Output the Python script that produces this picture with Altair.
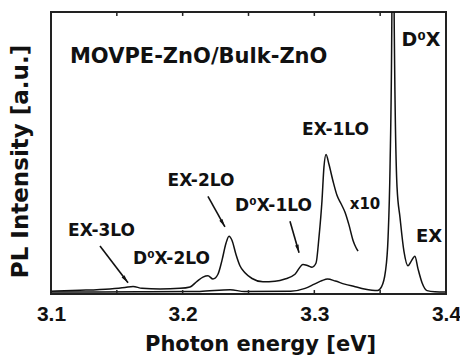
import altair as alt
import pandas as pd

# ---- data ----
main_energy = [3.100, 3.137, 3.175, 3.213, 3.236, 3.247, 3.282, 3.293, 3.300, 3.306,
               3.310, 3.316, 3.323, 3.331, 3.338, 3.348, 3.351, 3.354, 3.356, 3.3575,
               3.3589, 3.3597, 3.3606, 3.3628, 3.3651, 3.3681, 3.3711, 3.3734, 3.3764,
               3.3787, 3.3818, 3.3856, 3.3916, 3.400]
main_intensity = [0.7, 0.7, 0.8, 0.9, 1.5, 0.9, 1.0, 2.0, 3.5, 4.8,
                  5.3, 4.6, 3.5, 2.6, 1.8, 1.2, 2.5, 8, 20, 45,
                  100, 400, 100, 38, 27, 15, 10, 11.5, 13.4,
                  9, 4, 1.2, 0.8, 0.7]

x10_energy = [3.1000, 3.1220, 3.1448, 3.1562, 3.1623, 3.1691, 3.1828, 3.1980, 3.2056, 3.2109,
              3.2154, 3.2192, 3.2230, 3.2268, 3.2299, 3.2329, 3.2352, 3.2375, 3.2405, 3.2435,
              3.2473, 3.2527, 3.2610, 3.2701, 3.2777, 3.2853, 3.2914, 3.2952, 3.2982, 3.3013,
              3.3035, 3.3058, 3.3073, 3.3089, 3.3111, 3.3142, 3.3172, 3.3203, 3.3233, 3.3263,
              3.3294, 3.3316, 3.3332]
x10_intensity = [1.0, 1.3, 1.8, 2.3, 2.7, 2.0, 1.8, 2.0, 2.5, 4.5,
                 6.0, 6.5, 5.3, 7, 12, 18, 20.5, 19, 14, 10,
                 7.5, 5.5, 4.3, 4.5, 5.3, 7, 10.5, 10, 9.5, 11,
                 20, 33, 45, 49.5, 46, 40, 35, 32, 29, 24.5,
                 19, 16.5, 15.2]

label_text = ["EX-3LO", "D⁰X-2LO", "EX-2LO", "D⁰X-1LO", "EX-1LO", "x10", "D⁰X", "EX"]
label_energy = [3.1384, 3.1915, 3.2139, 3.2690, 3.3161, 3.3385, 3.3810, 3.3871]
label_intensity = [22.3, 12.4, 39.9, 31.1, 58.3, 31.8, 90.1, 20.1]
label_size = [17, 17, 17, 17, 17, 15, 19, 18]

sample_text = ["MOVPE-ZnO/Bulk-ZnO"]
sample_energy = [3.1144]
sample_intensity = [84.1]

arrow_start_energy = [3.1372, 3.2192, 3.2815]
arrow_start_intensity = [17.0, 34.6, 25.8]
arrow_end_energy = [3.1585, 3.2321, 3.2884]
arrow_end_intensity = [4.0, 23.8, 14.6]
arrow_angle = [142, 150, 164]

tick_energy = [3.10, 3.15, 3.20, 3.25, 3.30, 3.35, 3.40]
x_labels = [3.1, 3.2, 3.3, 3.4]

# ---- tables ----
spec_df = pd.concat([
    pd.DataFrame({"E": main_energy, "I": main_intensity, "s": "main"}),
    pd.DataFrame({"E": x10_energy, "I": x10_intensity, "s": "x10"}),
])
lab_df = pd.DataFrame({"t": label_text, "E": label_energy, "I": label_intensity, "fs": label_size})
samp_df = pd.DataFrame({"t": sample_text, "E": sample_energy, "I": sample_intensity})
arr_df = pd.DataFrame({"E": arrow_start_energy, "I": arrow_start_intensity,
                       "E2": arrow_end_energy, "I2": arrow_end_intensity, "a": arrow_angle})
tick_df = pd.concat([
    pd.DataFrame({"E": tick_energy, "y1": 100.0, "y2": 98.6}),
    pd.DataFrame({"E": tick_energy, "y1": 0.0, "y2": 1.4}),
])

FONT = "DejaVu Sans"
xscale = alt.Scale(domain=[3.1, 3.4], nice=False, zero=False)
yscale = alt.Scale(domain=[0, 100], nice=False)

x_axis = alt.Axis(values=x_labels, format=".1f", title="Photon energy [eV]",
                  ticks=False, tickSize=0, domain=False, grid=False,
                  labelFont="Liberation Sans", labelFontWeight="bold", labelFontSize=21,
                  labelColor="#111", labelBaseline="alphabetic", labelPadding=26,
                  labelFlush=False, labelOverlap=False,
                  titleFont=FONT, titleFontWeight="bold", titleFontSize=21, titleColor="#111",
                  titleBaseline="alphabetic", titleX=209, titleY=56)
y_axis = alt.Axis(title="PL Intensity [a.u.]", labels=False, ticks=False, domain=False, grid=False,
                  titleFont=FONT, titleFontWeight="bold", titleFontSize=23, titleColor="#111",
                  titleBaseline="alphabetic", titleAngle=270, titleX=-24, titleY=149)

lines = alt.Chart(spec_df).mark_line(color="#111", strokeWidth=1.5, clip=True,
                                     interpolate="monotone").encode(
    x=alt.X("E:Q", scale=xscale, axis=x_axis),
    y=alt.Y("I:Q", scale=yscale, axis=y_axis),
    detail="s:N",
)

ticks = alt.Chart(tick_df).mark_rule(color="#222", strokeWidth=1.5).encode(
    x="E:Q", y="y1:Q", y2="y2:Q")

labels = alt.Chart(lab_df).mark_text(font=FONT, fontWeight="bold", color="#111",
                                     align="center", baseline="middle").encode(
    x="E:Q", y="I:Q", text="t:N", size=alt.Size("fs:Q", scale=None))

sample = alt.Chart(samp_df).mark_text(font=FONT, fontWeight="bold", fontSize=21, color="#111",
                                      align="left", baseline="middle").encode(
    x="E:Q", y="I:Q", text="t:N")

shafts = alt.Chart(arr_df).mark_rule(color="#111", strokeWidth=1.6).encode(
    x="E:Q", y="I:Q", x2="E2:Q", y2="I2:Q")

heads = alt.Chart(arr_df).mark_point(shape="M0,0L0.38,1.7L-0.38,1.7Z", filled=True,
                                     color="#111", opacity=1, size=90).encode(
    x="E2:Q", y="I2:Q", angle=alt.Angle("a:Q", scale=None))

chart = alt.layer(lines, ticks, labels, sample, shafts, heads).properties(
    width=395, height=282,
    autosize=alt.AutoSizeParams(type="none"),
    padding={"left": 51, "top": 12, "right": 14, "bottom": 63},
    background="white",
).configure_view(stroke="#222", strokeWidth=2)

chart.save("out.html", embed_options={"renderer": "svg", "actions": False})
